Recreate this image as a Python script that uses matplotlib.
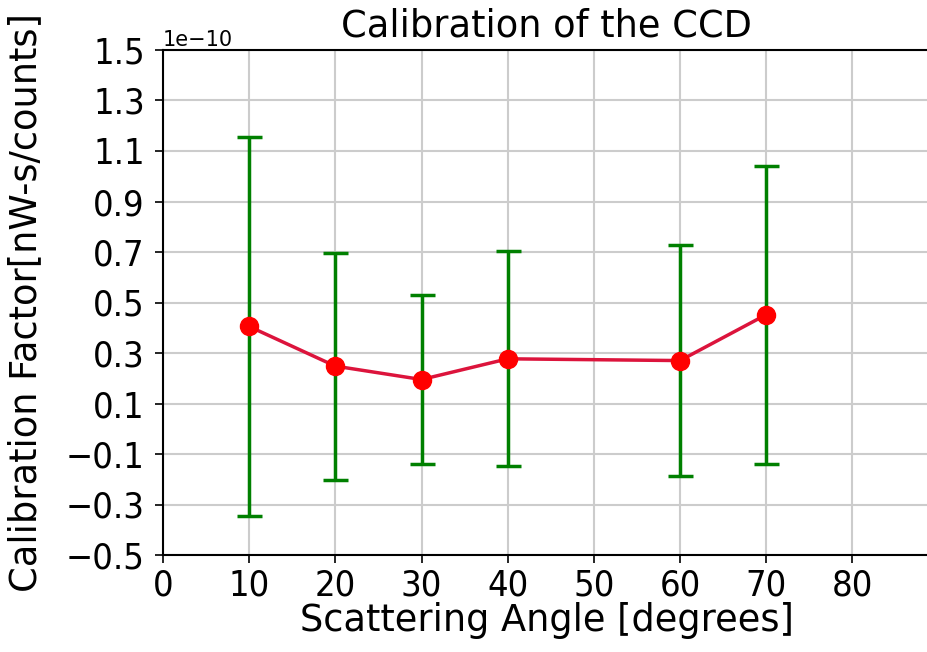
import matplotlib
matplotlib.use('Agg')
from matplotlib import pyplot as plt
from matplotlib.ticker import FixedLocator, FixedFormatter

# scattering angles and calibration factor (nW-s/counts)
angles = [10, 20, 30, 40, 60, 70]
calib = [0.405e-10, 0.248e-10, 0.195e-10, 0.277e-10, 0.270e-10, 0.452e-10]
calib_err = [0.750e-10, 0.450e-10, 0.335e-10, 0.425e-10, 0.457e-10, 0.590e-10]

x_ticks = [0, 10, 20, 30, 40, 50, 60, 70, 80]
y_ticks = [-0.5, -0.3, -0.1, 0.1, 0.3, 0.5, 0.7, 0.9, 1.1, 1.3, 1.5]
y_labels = ['\u22120.5', '\u22120.3', '\u22120.1', '0.1', '0.3', '0.5', '0.7',
            '0.9', '1.1', '1.3', '1.5']


def main():
    fig = plt.figure(figsize=(9.28, 6.52), dpi=100)
    ax = fig.add_axes([163 / 928, 97 / 652, 767 / 928, 505 / 652])

    ax.errorbar(angles, calib, yerr=calib_err, fmt='none', ecolor='green',
                elinewidth=2.5, capsize=9, capthick=2.5, zorder=2)
    ax.plot(angles, calib, '-', color='crimson', lw=2.5, zorder=3)
    ax.plot(angles, calib, 'o', color='red', ms=13, zorder=4)

    ax.set_xlim(0, 89)
    ax.set_ylim(-0.5e-10, 1.5e-10)
    ax.set_xticks(x_ticks)
    ax.yaxis.set_major_locator(FixedLocator([v * 1e-10 for v in y_ticks]))
    fmt = FixedFormatter(y_labels)
    fmt.set_offset_string('1e\u221210')
    ax.yaxis.set_major_formatter(fmt)
    ax.yaxis.get_offset_text().set_fontsize(15)

    ax.grid(True, color='#cccccc', lw=1.5)
    ax.set_axisbelow(True)
    ax.tick_params(labelsize=26, length=6, width=1.2)
    ax.tick_params(axis='y', pad=7)
    for lab in ax.get_xticklabels() + ax.get_yticklabels():
        lab.set_fontstretch('condensed')
    for s in ax.spines.values():
        s.set_linewidth(1.5)

    ax.set_xlabel('Scattering Angle [degrees]', fontsize=26.5, labelpad=0)
    ax.set_ylabel('Calibration Factor[nW-s/counts]', fontsize=26.5)
    ax.yaxis.set_label_coords(-0.155, 0.5)
    ax.set_title('Calibration of the CCD', fontsize=26.5, pad=10)

    fig.savefig('out.png', dpi=100)


if __name__ == '__main__':
    main()
